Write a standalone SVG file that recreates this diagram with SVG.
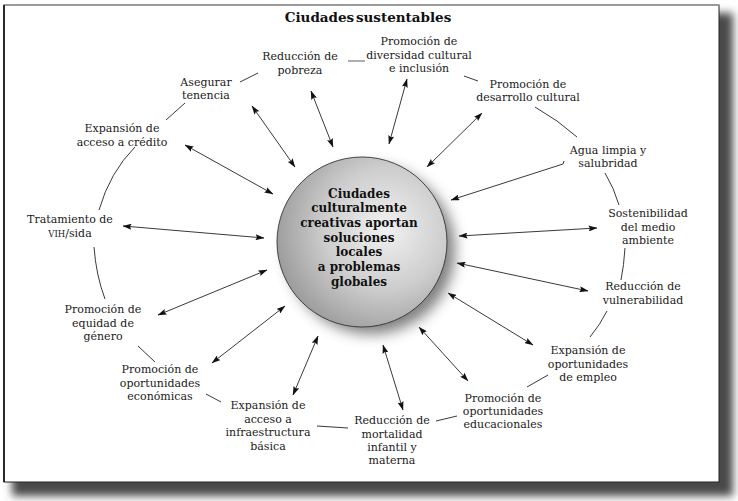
<svg xmlns="http://www.w3.org/2000/svg" width="738" height="501" viewBox="0 0 738 501">
<defs>
<style>
.lbl{font-family:"DejaVu Serif","Liberation Serif",serif;font-size:11px;fill:#1a1a1a;text-anchor:middle}
.ctr{font-family:"DejaVu Serif","Liberation Serif",serif;font-size:12px;font-weight:bold;fill:#111;text-anchor:middle}
.ttl{font-family:"DejaVu Serif","Liberation Serif",serif;font-size:13.5px;font-weight:bold;fill:#111;text-anchor:middle;word-spacing:-3px}
.ring{fill:none;stroke:#222;stroke-width:0.9}
.arr{fill:none;stroke:#222;stroke-width:0.9;marker-end:url(#ah)}
.arr2{fill:none;stroke:#222;stroke-width:0.9;marker-start:url(#ah);marker-end:url(#ah)}
</style>
<marker id="ah" viewBox="0 0 9 6" refX="8.5" refY="3" markerWidth="9" markerHeight="6" markerUnits="userSpaceOnUse" orient="auto-start-reverse">
<path d="M0,0 L9,3 L0,6 L1.5,3 z" fill="#111"/>
</marker>
<filter id="blur" x="-10%" y="-10%" width="120%" height="120%"><feGaussianBlur stdDeviation="4.5"/></filter>
<filter id="cblur" x="-30%" y="-30%" width="160%" height="160%"><feGaussianBlur stdDeviation="7"/></filter>
<radialGradient id="cg" cx="0.64" cy="0.42" r="0.72">
<stop offset="0" stop-color="#f2f2f2"/>
<stop offset="0.5" stop-color="#cdcdcd"/>
<stop offset="1" stop-color="#929292"/>
</radialGradient>
</defs>
<rect width="738" height="501" fill="#fff"/>
<g id="frame">
<rect x="12" y="13" width="721" height="483" fill="#4a4a4a" filter="url(#blur)"/>
<rect x="4" y="5" width="715" height="477" fill="#fff" stroke="#222" stroke-width="1"/>
<line x1="4" y1="5" x2="719" y2="5" stroke="#9a9a9a" stroke-width="2"/>
<line x1="4" y1="5" x2="4" y2="482" stroke="#111" stroke-width="1.6"/>
</g>
<text class="ttl" x="368" y="22">Ciudades sustentables</text>
<g id="connectors">
<path class="ring" d="M166,120 L185,103"/>
<path class="ring" d="M240,82 L258,73"/>
<path d="M348,61 L365,61" fill="none" stroke="#9a9a9a" stroke-width="1.6"/>
<path class="ring" d="M464,76 L478,81"/>
<path class="ring" d="M535,107 Q558,120 577,137"/>
<path class="ring" d="M605,173 Q614,188 619,205"/>
<path class="ring" d="M625,248 Q624,265 621,280"/>
<path class="ring" d="M607,311 Q600,325 590,337"/>
<path class="ring" d="M548,375 L527,387"/>
<path class="ring" d="M457,416 L436,421"/>
<path class="ring" d="M348,428 L317,426"/>
<path class="ring" d="M221,402 L206,394"/>
<path class="ring" d="M155,362 L138,346"/>
<path class="ring" d="M94,247 Q96,275 105,299"/>
<path class="ring" d="M99,210 Q110,172 135,147"/>
<path class="arr2" d="M252,106 L295,167"/>
<path class="arr2" d="M311,91 L333,147"/>
<path class="arr2" d="M407,79 L389,144"/>
<path class="arr2" d="M482,113 L427,167"/>
<path class="arr" d="M564,161 L563,164 L451,200"/>
<path class="arr2" d="M459,236 L597,228"/>
<path class="arr2" d="M457,263 L588,291"/>
<path class="arr2" d="M448,293 L533,345"/>
<path class="arr2" d="M419,327 L468,381"/>
<path class="arr2" d="M383,345 L403,410"/>
<path class="arr2" d="M318,336 L293,395"/>
<path class="arr2" d="M285,306 L212,363"/>
<path class="arr2" d="M267,270 L158,315"/>
<path class="arr2" d="M123,226 L264,238"/>
<path class="arr2" d="M185,145 L273,194"/>
</g>
<g id="center">
<circle cx="371" cy="250" r="84" fill="#555" opacity="0.75" filter="url(#cblur)"/>
<circle cx="362" cy="242" r="85" fill="url(#cg)" stroke="#333" stroke-width="0.9"/>
<text class="ctr" x="359" y="197.5">Ciudades</text>
<text class="ctr" x="359" y="212.2">culturalmente</text>
<text class="ctr" x="359" y="226.9">creativas aportan</text>
<text class="ctr" x="359" y="241.6">soluciones</text>
<text class="ctr" x="359" y="256.3">locales</text>
<text class="ctr" x="359" y="271">a problemas</text>
<text class="ctr" x="359" y="285.7">globales</text>
</g>
<g id="n-pobreza"><text class="lbl" x="300" y="60">Reducción de</text><text class="lbl" x="300" y="74">pobreza</text></g>
<g id="n-diversidad"><text class="lbl" x="419" y="45">Promoción de</text><text class="lbl" x="419" y="58.5">diversidad cultural</text><text class="lbl" x="419" y="72">e inclusión</text></g>
<g id="n-desarrollo"><text class="lbl" x="528" y="88">Promoción de</text><text class="lbl" x="528" y="101">desarrollo cultural</text></g>
<g id="n-agua"><text class="lbl" x="608" y="154">Agua limpia y</text><text class="lbl" x="608" y="167">salubridad</text></g>
<g id="n-sostenibilidad"><text class="lbl" x="648" y="217">Sostenibilidad</text><text class="lbl" x="648" y="230.5">del medio</text><text class="lbl" x="648" y="244">ambiente</text></g>
<g id="n-vulnerabilidad"><text class="lbl" x="643" y="290">Reducción de</text><text class="lbl" x="643" y="303.5">vulnerabilidad</text></g>
<g id="n-empleo"><text class="lbl" x="588" y="354">Expansión de</text><text class="lbl" x="588" y="367.5">oportunidades</text><text class="lbl" x="588" y="381">de empleo</text></g>
<g id="n-educacionales"><text class="lbl" x="503" y="402">Promoción de</text><text class="lbl" x="503" y="415">oportunidades</text><text class="lbl" x="503" y="428">educacionales</text></g>
<g id="n-mortalidad"><text class="lbl" x="392" y="424">Reducción de</text><text class="lbl" x="392" y="437.5">mortalidad</text><text class="lbl" x="392" y="451">infantil y</text><text class="lbl" x="392" y="464">materna</text></g>
<g id="n-infraestructura"><text class="lbl" x="268" y="409">Expansión de</text><text class="lbl" x="268" y="422.5">acceso a</text><text class="lbl" x="268" y="436">infraestructura</text><text class="lbl" x="268" y="449.5">básica</text></g>
<g id="n-economicas"><text class="lbl" x="160" y="373">Promoción de</text><text class="lbl" x="160" y="386.5">oportunidades</text><text class="lbl" x="160" y="400">económicas</text></g>
<g id="n-genero"><text class="lbl" x="103" y="313">Promoción de</text><text class="lbl" x="103" y="326.5">equidad de</text><text class="lbl" x="103" y="340">género</text></g>
<g id="n-vih"><text class="lbl" x="70" y="223">Tratamiento de</text><text class="lbl" x="70" y="237"><tspan font-size="8.5">VIH</tspan>/sida</text></g>
<g id="n-credito"><text class="lbl" x="122" y="132">Expansión de</text><text class="lbl" x="122" y="145.5">acceso a crédito</text></g>
<g id="n-tenencia"><text class="lbl" x="206" y="86">Asegurar</text><text class="lbl" x="206" y="99">tenencia</text></g>
</svg>
